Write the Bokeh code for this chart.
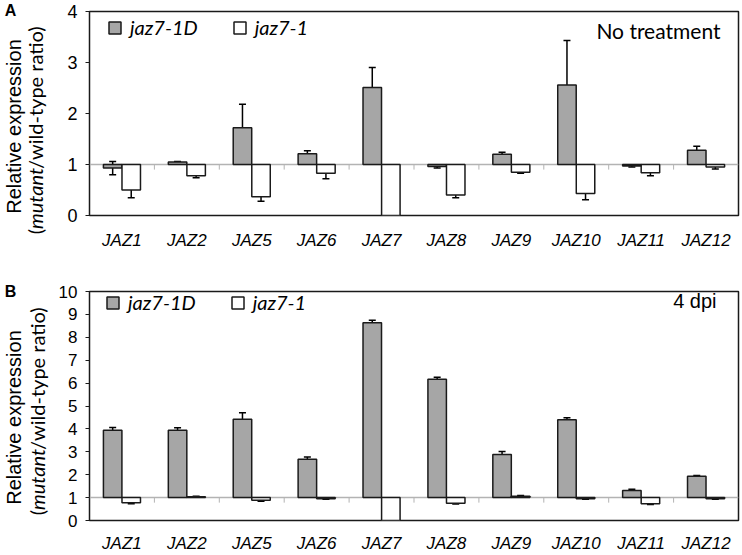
import math
from bokeh.plotting import figure
from bokeh.layouts import column, row
from bokeh.models import (ColumnDataSource, Span, Whisker, TeeHead, Label, Legend,
                          LegendItem, FixedTicker)
from bokeh.embed import file_html
from bokeh.resources import INLINE

# ---------------- data ----------------
genes = ["JAZ1", "JAZ2", "JAZ5", "JAZ6", "JAZ7", "JAZ8", "JAZ9", "JAZ10", "JAZ11", "JAZ12"]
series_names = ["jaz7-1D", "jaz7-1"]

# Panel A: no treatment
a_jaz7_1D = [0.93, 1.05, 1.72, 1.21, 2.51, 0.96, 1.20, 2.56, 0.97, 1.28]
a_jaz7_1D_err = [0.13, 0.01, 0.46, 0.06, 0.39, 0.03, 0.04, 0.87, 0.02, 0.08]
a_jaz7_1 = [0.50, 0.78, 0.37, 0.83, 0.00, 0.40, 0.85, 0.43, 0.84, 0.95]
a_jaz7_1_err = [0.15, 0.04, 0.09, 0.11, 0.00, 0.05, 0.02, 0.12, 0.06, 0.04]

# Panel B: 4 dpi
b_jaz7_1D = [3.94, 3.94, 4.42, 2.68, 8.64, 6.17, 2.88, 4.40, 1.31, 1.93]
b_jaz7_1D_err = [0.12, 0.11, 0.28, 0.09, 0.10, 0.09, 0.13, 0.09, 0.06, 0.04]
b_jaz7_1 = [0.77, 1.04, 0.88, 0.95, 0.00, 0.75, 1.06, 0.95, 0.73, 0.95]
b_jaz7_1_err = [0.04, 0.02, 0.04, 0.02, 0.00, 0.03, 0.03, 0.02, 0.03, 0.02]

a_ticks = [0, 1, 2, 3, 4]
b_ticks = [0, 1, 2, 3, 4, 5, 6, 7, 8, 9, 10]

# ---------------- style ----------------
GRAY = "#a6a6a6"
EDGE = "#1a1a1a"
BASE = "#b3b3b3"
BAR_W = 0.285
OFF = 0.143
TOTAL_W = 742
TW = 50  # width of the strip holding the y-axis titles
HA, HB = 270, 285
H = HA + HB


def add_titles(t, letter, page_letter, page_l1, page_l2, l2_font, mut_w, l2_total):
    """page_* are (x, y) positions measured from the top-left of the strip."""
    rot = math.pi / 2
    t.add_layout(Label(x=page_letter[0], y=H - page_letter[1], x_units="screen",
                       y_units="screen", text=letter, text_align="center",
                       text_baseline="middle", text_font="Liberation Sans",
                       text_font_style="bold", text_font_size="16px",
                       text_color="black"))
    t.add_layout(Label(x=page_l1[0], y=H - page_l1[1], x_units="screen",
                       y_units="screen", text="Relative expression", angle=rot,
                       text_align="center", text_baseline="middle",
                       text_font="Liberation Sans", text_font_size="20px",
                       text_color="black"))
    start = H - page_l2[1] - l2_total / 2 + 6.5
    common = dict(x=page_l2[0], x_units="screen", y_units="screen", angle=rot,
                  text_baseline="middle", text_font="Lato",
                  text_font_size=l2_font, text_color="black")
    t.add_layout(Label(y=start, text="(", text_align="right", **common))
    t.add_layout(Label(y=start, text="mutant", text_align="left",
                       text_font_style="italic", **common))
    t.add_layout(Label(y=start + mut_w, text="/wild-type ratio)", text_align="left",
                       **common))


def make_panel(note, v1d, e1d, v1, e1, yticks, height, bl, br, bt, bb,
               note_font, note_dx, note_dy, leg_dx, leg_dy, cat_standoff,
               tick_len, tick_size):
    ymax = yticks[-1]
    W = TOTAL_W - TW
    p = figure(width=W, height=height, x_range=(-0.5, len(genes) - 0.5),
               y_range=(0, ymax), output_backend="svg", toolbar_location=None,
               min_border_left=bl, min_border_right=br, min_border_top=bt,
               min_border_bottom=bb)
    fw = W - bl - br
    fh = height - bt - bb
    p.xgrid.visible = False
    p.ygrid.visible = False
    p.outline_line_color = EDGE
    p.outline_line_width = 1.5
    p.background_fill_color = "white"

    idx = list(range(len(genes)))
    p.xaxis.ticker = FixedTicker(ticks=idx)
    p.xaxis.major_label_overrides = {i: g for i, g in enumerate(genes)}
    p.xaxis.axis_line_color = None
    p.xaxis.major_tick_line_color = None
    p.xaxis.minor_tick_line_color = None
    p.xaxis.major_label_text_font = "Liberation Sans"
    p.xaxis.major_label_text_font_style = "italic"
    p.xaxis.major_label_text_font_size = "17px"
    p.xaxis.major_label_text_color = "black"
    p.xaxis.major_label_standoff = cat_standoff

    p.yaxis.ticker = FixedTicker(ticks=yticks)
    p.yaxis.axis_line_color = None
    p.yaxis.major_tick_line_color = EDGE
    p.yaxis.major_tick_out = 4
    p.yaxis.major_tick_in = 0
    p.yaxis.minor_tick_line_color = None
    p.yaxis.major_label_text_font = "Liberation Sans"
    p.yaxis.major_label_text_font_size = tick_size
    p.yaxis.major_label_text_color = "black"
    p.yaxis.major_label_standoff = 8

    # baseline at ratio 1 (horizontal axis crossing)
    p.add_layout(Span(location=1, dimension="width", line_color=BASE,
                      line_width=1.5, level="underlay"))
    bx = [i + 0.5 for i in idx[:-1]]
    p.segment(x0=bx, x1=bx, y0=[1] * len(bx), y1=[1 - tick_len] * len(bx),
              line_color=BASE, line_width=1, level="underlay")

    src = ColumnDataSource(dict(
        x1=[i - OFF for i in idx], x2=[i + OFF for i in idx],
        v1d=v1d, v1=v1,
    ))
    r1 = p.vbar(x="x1", width=BAR_W, bottom=1, top="v1d", source=src,
                fill_color=GRAY, line_color=EDGE, line_width=1.5)
    r2 = p.vbar(x="x2", width=BAR_W, bottom=1, top="v1", source=src,
                fill_color="white", line_color=EDGE, line_width=1.5)

    for xs, vals, errs in ((src.data["x1"], v1d, e1d), (src.data["x2"], v1, e1)):
        keep = [k for k in idx if errs[k] > 0]
        es = ColumnDataSource(dict(
            x=[xs[k] for k in keep],
            lo=[vals[k] - errs[k] for k in keep],
            hi=[vals[k] + errs[k] for k in keep]))
        wk = Whisker(base="x", lower="lo", upper="hi", source=es, dimension="height",
                     line_color="black", line_width=1.5,
                     upper_head=TeeHead(size=7, line_color="black", line_width=1.5),
                     lower_head=TeeHead(size=7, line_color="black", line_width=1.5))
        p.add_layout(wk)

    leg = Legend(items=[LegendItem(label=series_names[0], renderers=[r1]),
                        LegendItem(label=series_names[1], renderers=[r2])],
                 orientation="horizontal", location=(leg_dx, fh - leg_dy),
                 glyph_width=15, glyph_height=15, label_standoff=8, spacing=34,
                 padding=0, margin=0, border_line_color=None,
                 background_fill_alpha=0, label_text_font="Lato",
                 label_text_font_style="italic", label_text_font_size="20px",
                 label_text_color="black")
    p.add_layout(leg)

    p.add_layout(Label(x=fw - note_dx, y=fh - note_dy, x_units="screen",
                       y_units="screen", text=note, text_align="right",
                       text_baseline="middle", text_font=note_font[0],
                       text_font_size=note_font[1], text_color="black"))
    return p


pA = make_panel("No treatment", a_jaz7_1D, a_jaz7_1D_err, a_jaz7_1, a_jaz7_1_err,
                a_ticks, height=HA, bl=39, br=1, bt=11, bb=55,
                note_font=("Lato", "21px"), note_dx=21, note_dy=19,
                leg_dx=18, leg_dy=28, cat_standoff=9, tick_len=0.1,
                tick_size="18px")
pB = make_panel("4 dpi", b_jaz7_1D, b_jaz7_1D_err, b_jaz7_1, b_jaz7_1_err,
                b_ticks, height=HB, bl=36, br=4, bt=21, bb=29,
                note_font=("Liberation Sans", "20px"), note_dx=25,
                note_dy=15, leg_dx=16, leg_dy=29, cat_standoff=7, tick_len=0.22,
                tick_size="17px")

# one strip on the left, covering both panels, holds the y-axis titles
strip = figure(width=TW, height=H, x_range=(0, 1), y_range=(0, 1),
               x_axis_type=None, y_axis_type=None, output_backend="svg",
               toolbar_location=None, min_border=0)
strip.outline_line_color = None
strip.xgrid.visible = False
strip.ygrid.visible = False
add_titles(strip, "A", (10, 10), (13, 126), (34, 126), "20px", 60, 218)
add_titles(strip, "B", (10, 291), (13, 417), (36, 407), "20px", 60, 218)

layout = row(strip, column(pA, pB, spacing=0), spacing=0)
open("out.html", "w").write(file_html(layout, INLINE))
